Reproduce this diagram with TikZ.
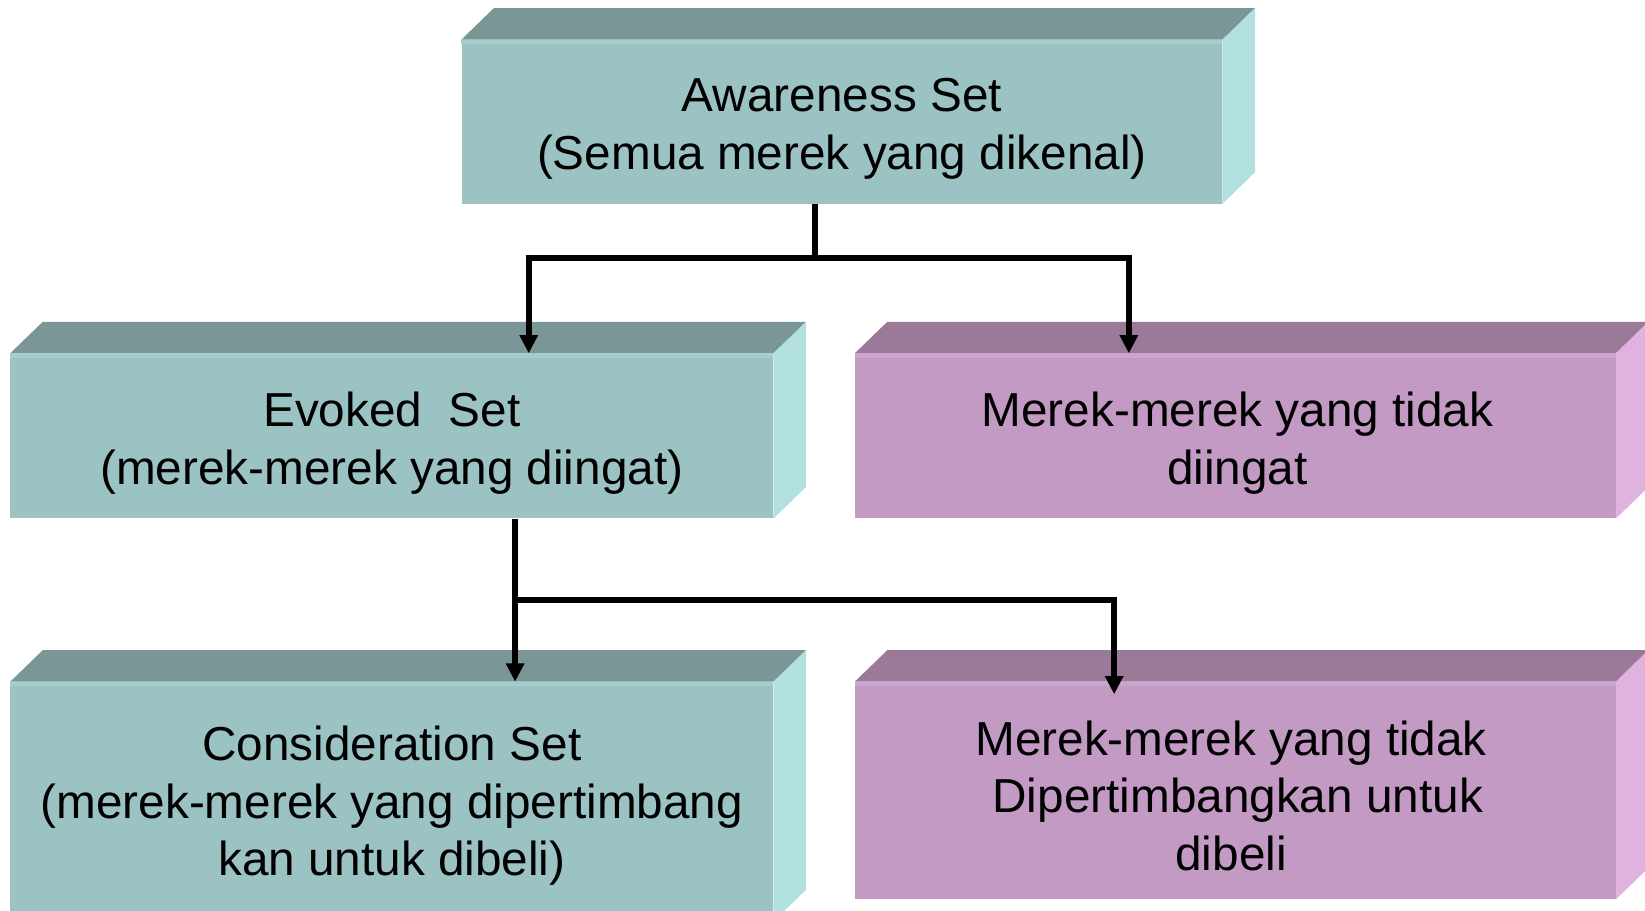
\documentclass[tikz,border=0pt]{standalone}
\usepackage{fontspec}
\setmainfont{Liberation Sans}
\usetikzlibrary{calc,arrows.meta}

\definecolor{tealFront}{HTML}{9BC3C4}
\definecolor{tealTop}{HTML}{7A9696}
\definecolor{tealSide}{HTML}{B2E0E1}
\definecolor{tealEdge}{HTML}{A6CDCE}
\definecolor{plumFront}{HTML}{C29AC4}
\definecolor{plumTop}{HTML}{9A7A98}
\definecolor{plumSide}{HTML}{E0B2E0}
\definecolor{plumEdge}{HTML}{CBA6CC}

\tikzset{
  front/.style={inner sep=0pt},
  face/.style={inner sep=0pt, align=center,
    font=\fontsize{38.8pt}{46.9pt}\selectfont},
  link/.style={line width=5pt, draw=black},
  arrowlink/.style={link, -{Triangle[length=0.52cm,width=0.5cm]}},
}

% top and side faces of a slab whose front face is node #1
\newcommand\slabfaces[4]{%
  \fill[#2] (#1.north west) -- ++(31,30) -- ($(#1.north east)+(31,30)$) -- (#1.north east) -- cycle;
  \fill[#3] (#1.north east) -- ++(31,30) -- ($(#1.south east)+(31,30)$) -- (#1.south east) -- cycle;
  \fill[#4] (#1.north west) rectangle ($(#1.north east)+(0,-4)$);
}

\begin{document}
\begin{tikzpicture}[x=0.03cm, y=0.03cm]
  \useasboundingbox (0,0) rectangle (1568,-868);
  \clip (0,0) rectangle (1568,-868);

  % front faces
  \node[front, fill=tealFront, minimum width=21.75cm, minimum height=4.68cm] (aw) at (802.5,-116) {};
  \node[front, fill=tealFront, minimum width=21.81cm, minimum height=4.71cm] (ev) at (373.5,-415.5) {};
  \node[front, fill=plumFront, minimum width=21.75cm, minimum height=4.71cm] (nr) at (1177.5,-415.5) {};
  \node[front, fill=tealFront, minimum width=21.81cm, minimum height=6.84cm] (cs) at (373.5,-764) {};
  \node[front, fill=plumFront, minimum width=21.75cm, minimum height=6.21cm] (nd) at (1177.5,-753.5) {};

  % top and side faces
  \slabfaces{aw}{tealTop}{tealSide}{tealEdge}
  \slabfaces{ev}{tealTop}{tealSide}{tealEdge}
  \slabfaces{nr}{plumTop}{plumSide}{plumEdge}
  \slabfaces{cs}{tealTop}{tealSide}{tealEdge}
  \slabfaces{nd}{plumTop}{plumSide}{plumEdge}

  % captions
  \node[face] (awt) at ($(aw.center)+(0,-7)$) {Awareness Set\\(Semua merek yang dikenal)};
  \node[face] (evt) at ($(ev.center)+(0,-7)$) {Evoked\ \ Set\\(merek-merek yang diingat)};
  \node[face] (nrt) at ($(nr.center)+(2,-7)$) {Merek-merek yang tidak\\diingat};
  \node[face] (cst) at ($(cs.center)+(0,-4)$)
    {Consideration Set\\(merek-merek yang dipertimbang\\kan untuk dibeli)};
  \node[face] (ndt) at ($(nd.center)+(-4,-5)$)
    {Merek-merek yang tidak\\\mbox{}\ Dipertimbangkan untuk\\dibeli};

  % connectors
  \coordinate (j1) at (777,-246);
  \draw[link] (aw.south -| j1) -- (j1);
  \draw[arrowlink] (j1) -| ($(ev.north)+(130.5,0)$);
  \draw[arrowlink] (j1) -| ($(nr.north)+(-101.5,0)$);

  \coordinate (j2) at (491,-572);
  \draw[link] (ev.south -| j2) -- (j2);
  \draw[arrowlink] (j2) -- (cs.north -| j2);
  \draw[arrowlink] (j2) -| ($(nd.north)+(-115.5,-12)$);
\end{tikzpicture}
\end{document}
